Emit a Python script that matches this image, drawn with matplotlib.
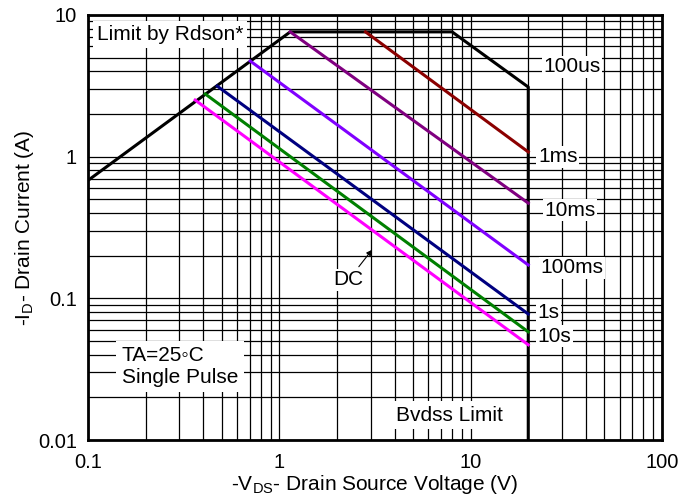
import matplotlib
matplotlib.use("Agg")
import matplotlib.pyplot as plt
from matplotlib.ticker import FixedLocator, LogLocator, NullFormatter

plt.rcParams['font.family'] = ['Liberation Sans', 'DejaVu Sans']

# Safe operating area curves (start point on the Rdson limit, end at Bvdss = 20 V)
rdson_v = [0.1, 1.14, 8.0, 20, 20]
rdson_i = [0.68, 7.6, 7.6, 3.1, 0.01]

curve_names = ['1ms', '10ms', '100ms', '1s', '10s', 'DC']
curve_v = [[2.82, 20], [1.14, 20], [0.705, 20], [0.473, 20], [0.41, 20], [0.363, 20]]
curve_i = [[7.6, 1.08], [7.6, 0.47], [4.73, 0.172], [3.15, 0.0775], [2.77, 0.058], [2.51, 0.047]]
curve_colors = ['#8B0000', '#800080', '#8000FF', '#000080', '#008000', '#FF00FF']

# labels at the right of the Bvdss line
label_text = ['100us', '1ms', '10ms', '100ms', '1s', '10s']
label_v = [34.0, 28.5, 33.0, 34.0, 25.5, 27.5]
label_i = [4.3, 1.0, 0.42, 0.164, 0.08, 0.054]

fig = plt.figure(figsize=(6.91, 5), dpi=100)
ax = fig.add_axes([0.1274, 0.12, 0.8306, 0.85])
ax.set_xscale('log')
ax.set_yscale('log')
ax.set_xlim(0.1, 100)
ax.set_ylim(0.01, 10)

ax.grid(True, which='both', color='black', linewidth=0.9)
ax.set_axisbelow(True)
for s in ax.spines.values():
    s.set_linewidth(2)

ax.xaxis.set_major_locator(FixedLocator([0.1, 1, 10, 100]))
ax.yaxis.set_major_locator(FixedLocator([0.01, 0.1, 1, 10]))
ax.xaxis.set_minor_locator(LogLocator(base=10, subs=range(2, 10)))
ax.yaxis.set_minor_locator(LogLocator(base=10, subs=range(2, 10)))
ax.xaxis.set_minor_formatter(NullFormatter())
ax.yaxis.set_minor_formatter(NullFormatter())
ax.set_xticklabels(['0.1', '1', '10', '100'])
ax.set_yticklabels(['0.01', '0.1', '1', '10'])
ax.tick_params(which='both', length=0, labelsize=14.5)
ax.tick_params(axis='x', pad=9)
ax.tick_params(axis='y', pad=8)

ax.plot(rdson_v, rdson_i, color='black', linewidth=2.2, zorder=3)
for v, i, c in zip(curve_v, curve_i, curve_colors):
    ax.plot(v, i, color=c, linewidth=2.2, zorder=3)

fs = 15
box = dict(facecolor='white', edgecolor='none', pad=1)
for t, v, i in zip(label_text, label_v, label_i):
    ax.text(v, i, t, fontsize=fs, ha='center', va='center', bbox=box, zorder=4)

ax.text(0.111, 7.3, 'Limit by Rdson*', fontsize=fs, ha='left', va='center',
        bbox=dict(facecolor='white', edgecolor='none', pad=3), zorder=4)
ax.text(0.15, 0.033, 'TA=25\u25e6C\nSingle Pulse', fontsize=fs, ha='left', va='center',
        linespacing=1.15, bbox=dict(facecolor='white', edgecolor='none', pad=4), zorder=4)
ax.text(7.7, 0.015, 'Bvdss Limit', fontsize=fs, ha='center', va='center',
        bbox=dict(facecolor='white', edgecolor='none', pad=3), zorder=4)
ax.annotate('DC', xy=(3.05, 0.22), xytext=(2.3, 0.135), fontsize=fs,
            ha='center', va='center', zorder=4,
            bbox=dict(facecolor='white', edgecolor='none', pad=1),
            arrowprops=dict(arrowstyle='-|>', color='black', lw=0.8,
                            mutation_scale=8, shrinkA=2, shrinkB=0))

ax.set_xlabel('-V$_{\\mathregular{DS}}$- Drain Source Voltage (V)', fontsize=fs, labelpad=1)
ax.set_ylabel('-I$_{\\mathregular{D}}$- Drain Current (A)', fontsize=fs)
ax.yaxis.set_label_coords(-0.09, 0.5)

fig.savefig('out.png', dpi=100)
